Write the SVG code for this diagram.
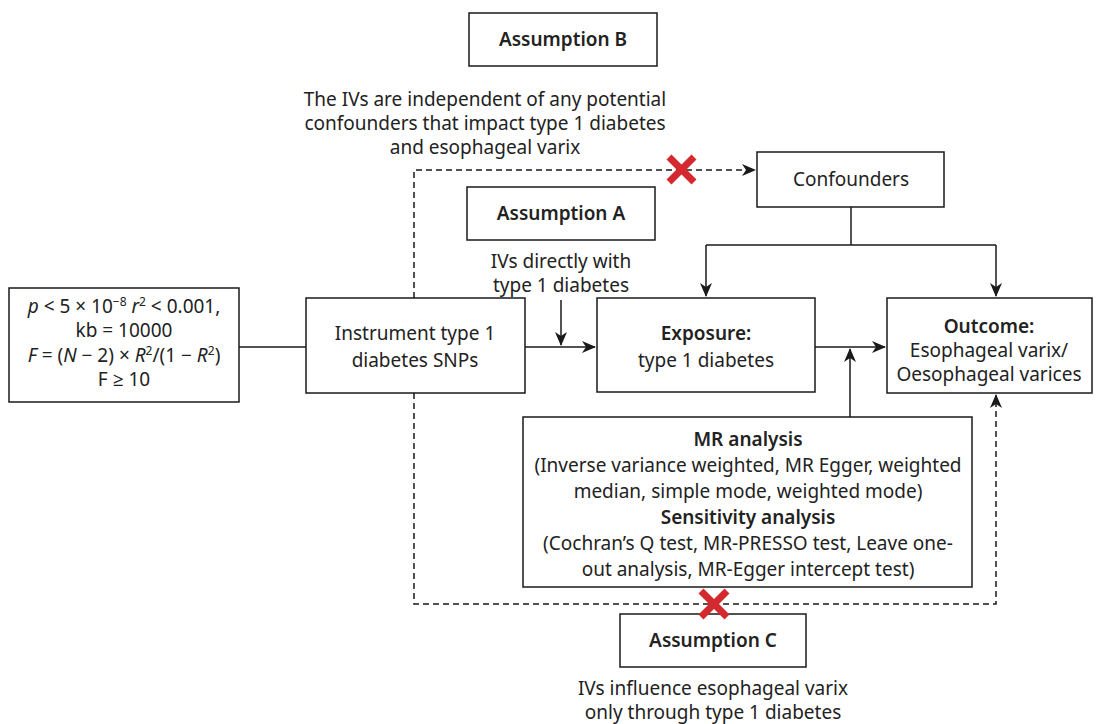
<svg xmlns="http://www.w3.org/2000/svg" width="1099" height="724" viewBox="0 0 1099 724">
<style>
.box{fill:#fff;stroke:#1a1a1a;stroke-width:1.5}
.t{font-family:"Noto Sans","Open Sans",sans-serif;font-size:19px;fill:#222;text-anchor:middle}
.b{font-weight:600}
.ln{fill:none;stroke:#1a1a1a;stroke-width:1.5}
.dash{fill:none;stroke:#1a1a1a;stroke-width:1.5;stroke-dasharray:6 4}
.x{stroke:#d42a2f;stroke-width:7;stroke-linecap:butt}
</style>
<defs>
<marker id="ah" markerWidth="14" markerHeight="12" refX="13" refY="6" orient="auto" markerUnits="userSpaceOnUse">
<path d="M0,0 L14,6 L0,12 L4,6 Z" fill="#1a1a1a"/>
</marker>
</defs>
<rect width="1099" height="724" fill="#fff"/>

<g id="connectors">
<path class="dash" d="M414,298 V170 H755" marker-end="url(#ah)"/>
<path class="dash" d="M414,393 V604 H996 V395" marker-end="url(#ah)"/>
<path class="ln" d="M239,347 H306"/>
<path class="ln" d="M525,347 H595" marker-end="url(#ah)"/>
<path class="ln" d="M561,300 V345" marker-end="url(#ah)"/>
<path class="ln" d="M815,347 H885" marker-end="url(#ah)"/>
<path class="ln" d="M850,417 V349" marker-end="url(#ah)"/>
<path class="ln" d="M851,207 V245"/>
<path class="ln" d="M706,245 H996"/>
<path class="ln" d="M706,245 V296" marker-end="url(#ah)"/>
<path class="ln" d="M996,245 V296" marker-end="url(#ah)"/>
</g>

<g id="assumptionB">
<rect class="box" x="469" y="13" width="188" height="53"/>
<text class="t b" x="563" y="46">Assumption B</text>
</g>
<g id="assumptionB-text">
<text class="t" x="485" y="106">The IVs are independent of any potential</text>
<text class="t" x="485" y="130">confounders that impact type 1 diabetes</text>
<text class="t" x="485" y="154">and esophageal varix</text>
</g>

<g id="confounders">
<rect class="box" x="757" y="152" width="187" height="55"/>
<text class="t" x="851" y="186">Confounders</text>
</g>

<g id="assumptionA">
<rect class="box" x="467" y="187" width="188" height="53"/>
<text class="t b" x="561" y="220">Assumption A</text>
<text class="t" x="561" y="268">IVs directly with</text>
<text class="t" x="561" y="292">type 1 diabetes</text>
</g>

<g id="criteria">
<rect class="box" x="9" y="288" width="230" height="114"/>
<text class="t" x="124" y="313"><tspan font-style="italic">p</tspan> &lt; 5 × 10<tspan font-size="12" baseline-shift="7">−8</tspan> <tspan font-style="italic">r</tspan><tspan font-size="12" baseline-shift="7">2</tspan> &lt; 0.001,</text>
<text class="t" x="124" y="337">kb = 10000</text>
<text class="t" x="124" y="362"><tspan font-style="italic">F</tspan> = (<tspan font-style="italic">N</tspan> − 2) × <tspan font-style="italic">R</tspan><tspan font-size="12" baseline-shift="7">2</tspan>/(1 − <tspan font-style="italic">R</tspan><tspan font-size="12" baseline-shift="7">2</tspan>)</text>
<text class="t" x="124" y="386">F ≥ 10</text>
</g>

<g id="instrument">
<rect class="box" x="306" y="298" width="219" height="95"/>
<text class="t" x="415" y="340">Instrument type 1</text>
<text class="t" x="415" y="367">diabetes SNPs</text>
</g>

<g id="exposure">
<rect class="box" x="597" y="298" width="218" height="94"/>
<text class="t b" x="706" y="340">Exposure:</text>
<text class="t" x="706" y="367">type 1 diabetes</text>
</g>

<g id="outcome">
<rect class="box" x="887" y="298" width="205" height="95"/>
<text class="t b" x="989" y="333">Outcome:</text>
<text class="t" x="989" y="357">Esophageal varix/</text>
<text class="t" x="989" y="381">Oesophageal varices</text>
</g>

<g id="mr">
<rect class="box" x="523" y="417" width="449" height="170"/>
<text class="t b" x="748" y="446">MR analysis</text>
<text class="t" x="748" y="472">(Inverse variance weighted, MR Egger, weighted</text>
<text class="t" x="748" y="498">median, simple mode, weighted mode)</text>
<text class="t b" x="748" y="524">Sensitivity analysis</text>
<text class="t" x="748" y="550">(Cochran’s Q test, MR-PRESSO test, Leave one-</text>
<text class="t" x="748" y="576">out analysis, MR-Egger intercept test)</text>
</g>

<g id="assumptionC">
<rect class="box" x="620" y="614" width="186" height="53"/>
<text class="t b" x="713" y="647">Assumption C</text>
<text class="t" x="713" y="695">IVs influence esophageal varix</text>
<text class="t" x="713" y="719">only through type 1 diabetes</text>
</g>

<g id="xmarks">
<path class="x" d="M669,157 L694,182 M694,157 L669,182"/>
<path class="x" d="M701,591 L727,617 M727,591 L701,617"/>
</g>
</svg>
